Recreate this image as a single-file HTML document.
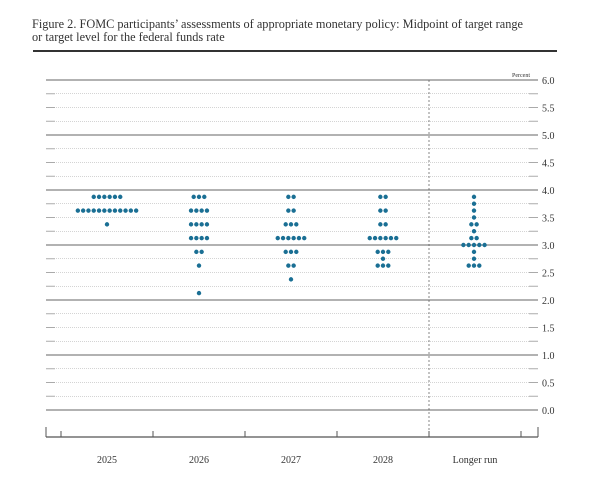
<!DOCTYPE html>
<html><head><meta charset="utf-8"><style>
body{margin:0;background:#fff;width:600px;height:492px;overflow:hidden}
svg text{font-family:"Liberation Serif",serif;fill:#333}
</style></head><body>
<svg width="600" height="492" xmlns="http://www.w3.org/2000/svg">
<text x="32" y="28" font-size="12.3" fill="#222">Figure 2. FOMC participants’ assessments of appropriate monetary policy: Midpoint of target range</text>
<text x="32" y="41" font-size="12.3" fill="#222">or target level for the federal funds rate</text>
<line x1="33" y1="51" x2="557" y2="51" stroke="#333" stroke-width="2"/>
<text x="530" y="77" font-size="6" text-anchor="end">Percent</text>
<g id="grid"></g>
<line x1="429" y1="80" x2="429" y2="437" stroke="#555" stroke-width="0.7" stroke-dasharray="2,2"/>
<line x1="46" y1="437" x2="538" y2="437" stroke="#555" stroke-width="1.2"/>
<g stroke="#555" stroke-width="1">
<line x1="46" y1="427" x2="46" y2="437"/><line x1="538" y1="427" x2="538" y2="437"/>
<line x1="61" y1="431" x2="61" y2="437"/><line x1="153" y1="431" x2="153" y2="437"/>
<line x1="245" y1="431" x2="245" y2="437"/><line x1="337" y1="431" x2="337" y2="437"/>
<line x1="429" y1="431" x2="429" y2="437"/><line x1="521" y1="431" x2="521" y2="437"/>
</g>
<g font-size="10" text-anchor="middle">
<text x="107" y="463">2025</text><text x="199" y="463">2026</text><text x="291" y="463">2027</text><text x="383" y="463">2028</text><text x="475" y="463">Longer run</text>
</g>
<g id="dots" fill="#1a6f94"></g>
</svg>
<script>
var ns="http://www.w3.org/2000/svg",g=document.getElementById("grid");
function el(p,t,a){var e=document.createElementNS(ns,t);for(var k in a)e.setAttribute(k,a[k]);p.appendChild(e);return e;}
for(var i=0;i<=24;i++){var v=6-i*0.25,y=80+i*13.75;
 if(i%4==0){el(g,"line",{x1:46,y1:y,x2:538,y2:y,stroke:"#666","stroke-width":1});}
 else{el(g,"line",{x1:46,y1:y,x2:538,y2:y,stroke:"#aaa","stroke-width":0.6,"stroke-dasharray":"1,1"});
  el(g,"line",{x1:46,y1:y,x2:55,y2:y,stroke:"#aaa","stroke-width":1});el(g,"line",{x1:529,y1:y,x2:538,y2:y,stroke:"#aaa","stroke-width":1});}
 if(i%2==0){var t=el(g,"text",{x:542,y:y+4,"font-size":10});t.textContent=v.toFixed(1);}}
var d=document.getElementById("dots");
var data={107:[[3.875,6],[3.625,12],[3.375,1]],
199:[[3.875,3],[3.625,4],[3.375,4],[3.125,4],[2.875,2],[2.625,1],[2.125,1]],
291:[[3.875,2],[3.625,2],[3.375,3],[3.125,6],[2.875,3],[2.625,2],[2.375,1]],
383:[[3.875,2],[3.625,2],[3.375,2],[3.125,6],[2.875,3],[2.75,1],[2.625,3]],
474:[[3.875,1],[3.75,1],[3.625,1],[3.5,1],[3.375,2],[3.25,1],[3.125,2],[3.0,5],[2.875,1],[2.75,1],[2.625,3]]};
for(var c in data){data[c].forEach(function(r){var y=80+(6-r[0])*55;for(var j=0;j<r[1];j++){el(d,"circle",{cx:+c+(j-(r[1]-1)/2)*5.3,cy:y,r:2.2});}});}
</script>
</body></html>
